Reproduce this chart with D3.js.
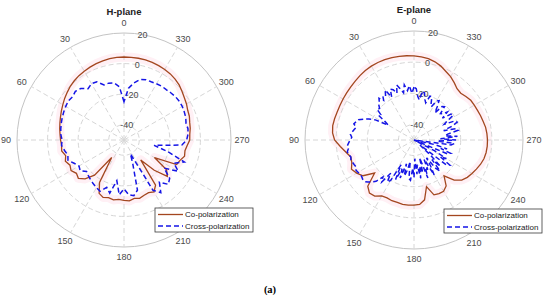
<!DOCTYPE html>
<html>
<head>
<meta charset="utf-8">
<script src="https://cdn.jsdelivr.net/npm/d3@7/dist/d3.min.js"></script>
<style>
body { margin: 0; background: #fff; }
svg { font-family: "Liberation Sans", Arial, sans-serif; }
</style>
</head>
<body>
<svg width="550" height="299"></svg>
<script>
// angle (deg, counter-clockwise from top) for every sample
var angles = d3.range(0, 360, 5);
var eCrossAngles = d3.range(0, 360, 2.5);

// H-plane, dB
var hCo = [4.3, 4.2, 4.0, 3.6, 3.2, 2.6, 2.0, 1.4, 0.6, -0.3, -1.5, -2.6,
  -3.8, -4.8, -5.8, -6.6, -7.3, -8.0, -8.5, -9.0, -8.6, -10.5, -9.2, -11.0,
  -10.0, -12.0, -11.0, -14.0, -20.0, -36.0, -18.0, -11.5, -10.0, -11.0, -10.2, -11.0,
  -10.5, -10.0, -11.2, -10.5, -11.5, -12.0, -10.8, -14.0, -33.0, -22.0, -13.0, -16.0,
  -27.0, -12.0, -11.0, -9.0, -9.5, -8.5, -7.0, -6.8, -6.0, -5.5, -4.5, -4.0,
  -2.8, -1.8, -0.5, 1.0, 2.0, 2.8, 3.3, 3.7, 4.0, 4.2, 4.3, 4.3];
var hCross = [-25, -15, -12, -11.5, -11.7, -8, -7.5, -9, -6, -5, -6, -5.5,
  -6, -6.5, -7, -7.5, -8, -8.5, -9.5, -9, -10.5, -12, -11, -14,
  -16, -15, -18, -17, -16, -15, -14, -13, -17, -14, -23, -14,
  -18, -14, -13, -16, -33, -40, -12, -8, -14, -9, -11, -18,
  -9, -14, -8, -20, -30, -12, -9, -8, -7.5, -8, -7, -6.5,
  -6, -5.8, -6, -6.5, -7, -7, -7.5, -8, -8, -9, -12, -16];

// E-plane, dB
var eCo = [4.0, 4.3, 4.6, 4.8, 4.9, 4.9, 4.8, 4.5, 4.0, 3.4, 3.0, 2.8,
  2.6, 2.5, 2.5, 2.8, 3.0, 2.5, 1.0, -2.5, -5.5, -8.0, -7.5, -5.7,
  -7.5, -10, -17, -8, -5.5, -6, -8.5, -9, -8.5, -8.5, -8, -8,
  -8.2, -8.5, -11, -19, -12.5, -12, -12, -14, -20, -13.5, -10, -8.2,
  -7, -5.8, -4.5, -3.5, -3, -2.8, -2.8, -3.0, -3.3, -4, -4.5, -5.0,
  -5.3, -5.5, -6.5, -7.5, -7.0, -5, -3, -1.5, 0.5, 2, 3, 3.6];
// cross-pol E-plane, sampled every 2.5 deg
var eCross = [
  -16, -20, -15, -18, -14, -19, -16, -13, -18, -15, -14, -19,
  -13, -16, -15, -18, -15, -17, -18, -20, -19, -23, -22, -28,
  -31, -22, -18, -15, -12, -11, -10, -12, -11, -10, -9, -10,
  -9, -8, -7, -7.5, -6.5, -7, -8, -7.5, -8, -8.5, -9, -8,
  -8.5, -9, -9, -8.5, -8.5, -10, -12, -14, -19, -16, -24, -18,
  -20, -32, -22, -30, -24, -34, -26, -30, -36, -25, -24, -32,
  -26, -38, -28, -34, -25, -33, -28, -38, -24, -31, -29, -36,
  -24, -30, -36, -27, -24, -33, -26, -36, -45, -24, -22, -30,
  -26, -35, -50, -27, -25, -32, -28, -36, -50, -26, -24, -35,
  -23, -33, -22, -30, -28, -21, -22, -30, -24, -20, -21, -28,
  -25, -20, -21, -27, -22, -25, -26, -21, -22, -28, -24, -20,
  -21, -26, -24, -20, -20, -25, -23, -19, -18, -24, -22, -17];

var angleTicks = [0, 30, 60, 90, 120, 150, 180, 210, 240, 270, 300, 330];
var rTicks = [-40, -20, 0, 20];
var seriesNames = ["Co-polarization", "Cross-polarization"];

var svg = d3.select("svg");
var coColor = "#a3461f", crossColor = "#1515e6";

drawPolar({ cx: 124, cy: 140, R: 107, title: "H-plane", ty: 11, co: hCo, cross: hCross, crossAngles: angles, lx: 155, ly: 208 });
drawPolar({ cx: 414, cy: 140, R: 109, title: "E-plane", ty: 9, co: eCo, cross: eCross, crossAngles: eCrossAngles, lx: 444, ly: 209 });

svg.append("text")
  .attr("x", 270).attr("y", 293)
  .attr("text-anchor", "middle")
  .style("font-family", "'Liberation Serif', serif")
  .style("font-weight", "bold")
  .style("font-size", "10.5px")
  .text("(a)");

function drawPolar(o) {
  var g = svg.append("g").attr("transform", "translate(" + o.cx + "," + o.cy + ")");
  var r = d3.scaleLinear().domain([-50, 20]).range([0, o.R]).clamp(true);
  var rad = function(a) { return -a * Math.PI / 180; };

  function radial(angs) {
    return d3.lineRadial()
      .angle(function(d, i) { return rad(angs[i]); })
      .radius(function(d) { return r(d); })
      .curve(d3.curveLinearClosed);
  }
  var coLine = radial(angles);
  var crossLine = radial(o.crossAngles);

  // faint pink halo behind the co-pol trace
  g.append("path")
    .attr("d", coLine(o.co))
    .style("fill", "none")
    .style("stroke", "#fff0f5")
    .style("stroke-width", 9)
    .style("stroke-linejoin", "round");

  // rings
  g.selectAll(".ring")
    .data(rTicks)
    .enter().append("circle")
    .attr("r", function(d) { return r(d); })
    .style("fill", "none")
    .style("stroke", function(d) { return d == 20 ? "#c4c4c4" : "#d6d6d6"; })
    .style("stroke-width", 1)
    .style("stroke-dasharray", function(d) { return d == 20 ? null : "5,3"; });

  // spokes
  g.selectAll(".spoke")
    .data(angleTicks)
    .enter().append("line")
    .attr("x1", 0).attr("y1", 0)
    .attr("x2", function(d) { return o.R * Math.sin(rad(d)); })
    .attr("y2", function(d) { return -o.R * Math.cos(rad(d)); })
    .style("stroke", "#d6d6d6")
    .style("stroke-width", 1)
    .style("stroke-dasharray", "5,3");

  // angle labels
  g.selectAll(".alabel")
    .data(angleTicks)
    .enter().append("text")
    .attr("x", function(d) { return (o.R + 11) * Math.sin(rad(d)); })
    .attr("y", function(d) { return -(o.R + 10) * Math.cos(rad(d)); })
    .attr("text-anchor", "middle")
    .attr("dominant-baseline", "central")
    .style("font-size", "9px")
    .style("fill", "#4a4a4a")
    .text(function(d) { return d; });

  // radial labels
  g.selectAll(".rlabel")
    .data(rTicks)
    .enter().append("text")
    .attr("x", function(d) { return r(d) * Math.sin(10 * Math.PI / 180); })
    .attr("y", function(d) { return -r(d) * Math.cos(10 * Math.PI / 180); })
    .attr("text-anchor", "middle")
    .attr("dominant-baseline", "central")
    .style("font-size", "9px")
    .style("fill", "#4a4a4a")
    .text(function(d) { return d; });

  g.append("path")
    .attr("d", coLine(o.co))
    .style("fill", "none")
    .style("stroke", coColor)
    .style("stroke-width", 1.3);

  g.append("path")
    .attr("d", crossLine(o.cross))
    .style("fill", "none")
    .style("stroke", crossColor)
    .style("stroke-width", 1.5)
    .style("stroke-dasharray", "5,3");

  svg.append("text")
    .attr("x", o.cx).attr("y", o.ty)
    .attr("text-anchor", "middle")
    .attr("dominant-baseline", "central")
    .style("font-size", "9.5px")
    .style("font-weight", "bold")
    .style("fill", "#222")
    .text(o.title);

  // legend
  var lg = svg.append("g").attr("transform", "translate(" + o.lx + "," + o.ly + ")");
  lg.append("rect")
    .attr("width", 98).attr("height", 24)
    .style("fill", "#fff")
    .style("stroke", "#3a3a3a")
    .style("stroke-width", 0.8);
  var item = lg.selectAll(".item")
    .data(seriesNames)
    .enter().append("g")
    .attr("transform", function(d, i) { return "translate(0," + (6.5 + i * 11.5) + ")"; });
  item.append("line")
    .attr("x1", 3).attr("x2", 28)
    .style("stroke", function(d, i) { return i == 0 ? coColor : crossColor; })
    .style("stroke-width", function(d, i) { return i == 0 ? 1.3 : 1.5; })
    .style("stroke-dasharray", function(d, i) { return i == 0 ? null : "5,3"; });
  item.append("text")
    .attr("x", 30)
    .attr("dominant-baseline", "central")
    .style("font-size", "8px")
    .style("fill", "#222")
    .text(function(d) { return d; });
}
</script>
</body>
</html>
